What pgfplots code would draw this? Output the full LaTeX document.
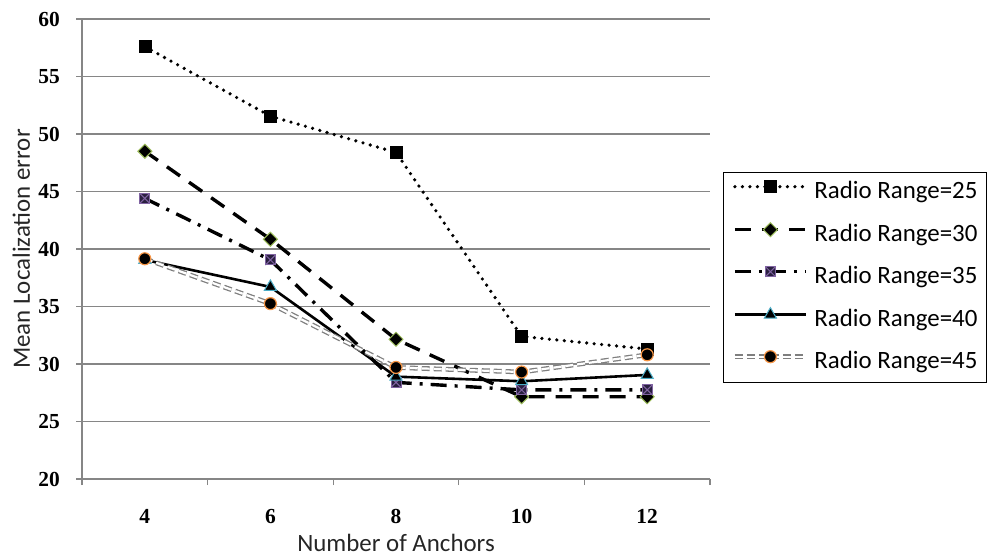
\documentclass[border=0pt]{standalone}
\usepackage{fontspec}
\setmainfont{Carlito}
\newfontfamily\tickfont{Liberation Serif}
\usepackage{pgfplots}
\pgfplotsset{compat=1.18}

\definecolor{gridgray}{HTML}{868686}
\definecolor{txtgray}{HTML}{262626}
\definecolor{mkgreen}{HTML}{9BBB59}
\definecolor{mkpurple}{HTML}{8064A2}
\definecolor{mkdark}{HTML}{2A2040}
\definecolor{mkcyan}{HTML}{4BACC6}
\definecolor{mkorange}{HTML}{F79646}
\definecolor{rr45gray}{HTML}{7F7F7F}

\pgfdeclareplotmark{squarex}{%
  \pgfpathrectangle{\pgfpoint{-\pgfplotmarksize}{-\pgfplotmarksize}}{\pgfpoint{2\pgfplotmarksize}{2\pgfplotmarksize}}%
  \pgfusepathqfillstroke
  \pgfpathmoveto{\pgfpoint{-\pgfplotmarksize}{-\pgfplotmarksize}}%
  \pgfpathlineto{\pgfpoint{\pgfplotmarksize}{\pgfplotmarksize}}%
  \pgfpathmoveto{\pgfpoint{-\pgfplotmarksize}{\pgfplotmarksize}}%
  \pgfpathlineto{\pgfpoint{\pgfplotmarksize}{-\pgfplotmarksize}}%
  \pgfusepathqstroke
}
\pgfdeclareplotmark{sqdiamond}{%
  \pgfpathmoveto{\pgfpoint{0pt}{\pgfplotmarksize}}%
  \pgfpathlineto{\pgfpoint{\pgfplotmarksize}{0pt}}%
  \pgfpathlineto{\pgfpoint{0pt}{-\pgfplotmarksize}}%
  \pgfpathlineto{\pgfpoint{-\pgfplotmarksize}{0pt}}%
  \pgfpathclose
  \pgfusepathqfillstroke
}

\begin{document}
\begin{tikzpicture}
\useasboundingbox (-82bp,-79bp) rectangle (905bp,479bp);
\begin{axis}[
  at={(0,0)}, anchor=south west,
  scale only axis, width=628bp, height=460bp,
  xmin=3, xmax=13, ymin=20, ymax=60,
  clip=false,
  axis x line*=bottom, axis y line*=left,
  axis line style={draw=gridgray, line width=1.2bp, -},
  tick align=outside,
  major tick length=6bp,
  tick style={draw=gridgray, line width=1.2bp},
  xtick={3,5,7,9,11,13},
  xticklabels={},
  extra x ticks={4,6,8,10,12},
  extra x tick labels={4,6,8,10,12},
  extra x tick style={major tick length=0pt, xmajorgrids=false},
  ytick={20,25,...,60},
  ymajorgrids,
  major grid style={draw=gridgray, line width=1.2bp},
  /pgf/number format/assume math mode=true,
  ticklabel style={font=\tickfont\bfseries\fontsize{21.5}{25}\selectfont, text=black},
  xticklabel style={anchor=north, inner sep=0pt, yshift=-30bp},
  yticklabel style={anchor=east, inner sep=0pt, xshift=-16bp},
  xlabel={Number of Anchors},
  label style={font=\fontsize{25}{30}\selectfont, text=txtgray},
  xlabel style={at={(axis description cs:0.5,0)}, anchor=base, yshift=-72bp, inner sep=0pt},
  legend image code/.code={\draw[mark repeat=2,mark phase=2,#1] plot coordinates {(0bp,6bp) (35.5bp,6bp) (71bp,6bp)};},
  legend cell align=left,
  legend style={at={(axis description cs:1.0207,0.667)}, anchor=north west,
    draw=black, line width=1bp, fill=white,
    inner xsep=9bp, inner ysep=8bp,
    row sep=18bp, column sep=6bp,
    nodes={inner sep=0pt, text height=18bp, text depth=6bp, font=\fontsize{25}{30}\selectfont, text=black}},
]
\addplot[black, line width=3.6bp, line cap=round, dash pattern=on 0bp off 7.5bp,
  mark=square*, mark size=6bp, mark options={solid, fill=black, draw=black, line width=0.5bp}]
  coordinates {(4,57.6) (6,51.55) (8,48.4) (10,32.4) (12,31.3)};
\addlegendentry{Radio Range=25}
\addplot[black, line width=3.4bp, line cap=butt, dash pattern=on 16bp off 11bp,
  mark=sqdiamond, mark size=7bp, mark options={solid, fill=black, draw=mkgreen, line width=1bp}]
  coordinates {(4,48.5) (6,40.85) (8,32.15) (10,27.15) (12,27.15)};
\addlegendentry{Radio Range=30}
\addplot[black, line width=3.4bp, line cap=butt, dash pattern=on 16bp off 8bp on 3bp off 8bp,
  mark=squarex, mark size=5bp, mark options={solid, fill=mkdark, draw=mkpurple, line width=1bp}]
  coordinates {(4,44.4) (6,39.05) (8,28.4) (10,27.75) (12,27.75)};
\addlegendentry{Radio Range=35}
\addplot[black, line width=2.6bp,
  mark=triangle*, mark size=7bp, mark options={solid, fill=black, draw=mkcyan, line width=1bp}]
  coordinates {(4,39.05) (6,36.7) (8,28.9) (10,28.5) (12,29.05)};
\addlegendentry{Radio Range=40}
\addplot[draw=rr45gray, line width=1.3bp, double=white, double distance=2.2bp, dash pattern=on 8bp off 4bp,
  mark=*, mark size=6bp, mark options={solid, fill=black, draw=mkorange, line width=1.2bp}]
  coordinates {(4,39.15) (6,35.25) (8,29.7) (10,29.3) (12,30.8)};
\addlegendentry{Radio Range=45}
\node[rotate=90, anchor=base, inner sep=0pt, font=\fontsize{25}{30}\selectfont, text=txtgray]
  at ([xshift=-52bp]axis description cs:0,0.5) {Mean Localization error};
\end{axis}
\end{tikzpicture}
\end{document}
